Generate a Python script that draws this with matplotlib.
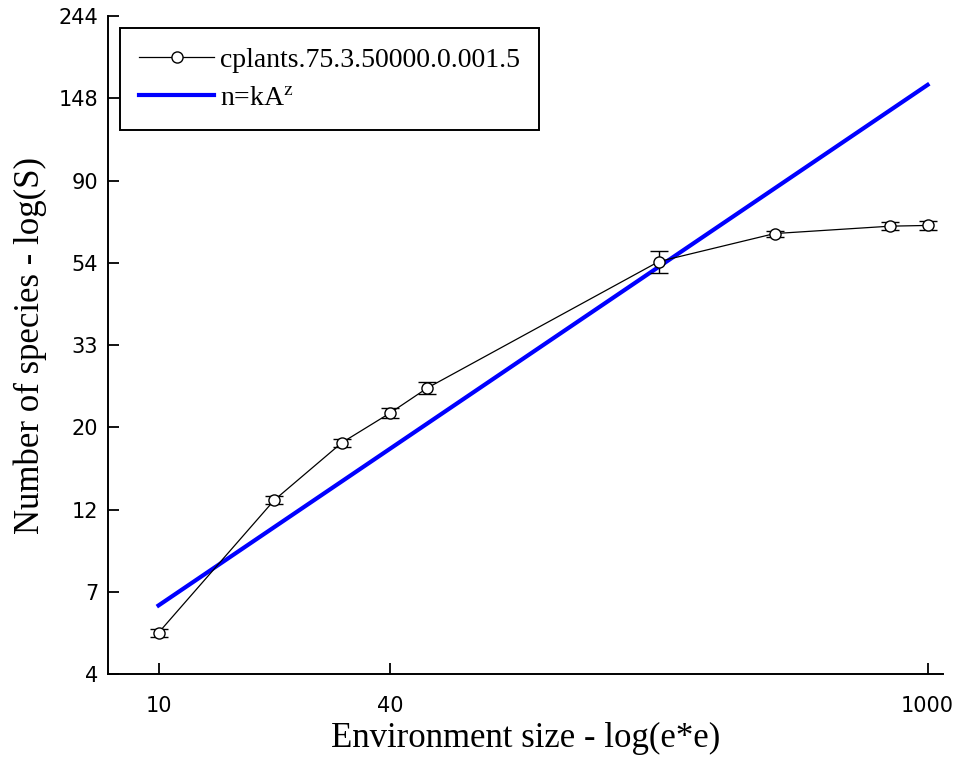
import matplotlib
matplotlib.use('Agg')
import matplotlib.pyplot as plt
import numpy as np

# species-area data
env_size = [10, 20, 30, 40, 50, 200, 400, 800, 1000]
species = [5.76, 12.9, 18.3, 21.9, 25.5, 55.0, 65.2, 68.2, 68.5]
species_err = [0.15, 0.3, 0.45, 0.65, 0.9, 3.7, 1.2, 1.7, 1.7]

# power law fit n = kA^z, end points
fit_x = [10, 1000]
fit_y = [6.8, 161]

x_ticks = [10, 40, 1000]
x_tick_labels = ['10', '40', '1000']
# y ticks sit at e^1.5 .. e^5.5, labels truncated
y_ticks = list(np.exp(np.arange(1.5, 5.51, 0.5)))
y_tick_labels = ['4', '7', '12', '20', '33', '54', '90', '148', '244']

series_label = 'cplants.75.3.50000.0.001.5'
fit_label = r'n=kA$^\mathrm{z}$'

plt.rcParams['mathtext.fontset'] = 'stix'

fig = plt.figure(figsize=(9.6, 7.69), dpi=100)
ax = fig.add_axes([0.1125, 0.1235, 0.8698, 0.8557])

ax.errorbar(env_size, species, yerr=species_err, fmt='none', ecolor='black',
            elinewidth=1.0, capsize=6.5, capthick=1.0, zorder=3)
ax.plot(env_size, species, color='black', lw=0.9, marker='o', ms=8,
        mfc='white', mec='black', mew=1.0, label=series_label, zorder=4)
ax.plot(fit_x, fit_y, color='#0000ff', lw=3, label=fit_label, zorder=2)

ax.set_xscale('log')
ax.set_yscale('log')
ax.set_xlim(np.exp(2), np.exp(7))
ax.set_ylim(np.exp(1.5), np.exp(5.5))
ax.minorticks_off()
ax.set_xticks(x_ticks)
ax.set_xticklabels(x_tick_labels)
ax.set_yticks(y_ticks)
ax.set_yticklabels(y_tick_labels)

for s in ['top', 'right']:
    ax.spines[s].set_visible(False)
for s in ['left', 'bottom']:
    ax.spines[s].set_linewidth(1.4)

ax.tick_params(axis='both', direction='in', length=8, width=1.3,
               labelsize=15)
ax.tick_params(axis='x', pad=16)
ax.tick_params(axis='y', pad=7)

ax.set_xlabel('Environment size - log(e*e)', family='Liberation Serif',
              fontsize=25, labelpad=4)
ax.set_ylabel('Number of species - log(S)', family='Liberation Serif',
              fontsize=25, labelpad=8)

leg = ax.legend(loc='upper left', bbox_to_anchor=(0.014, 0.982),
                prop={'family': 'Liberation Serif', 'size': 20},
                fancybox=False, framealpha=1, edgecolor='black',
                handlelength=2.7, handletextpad=0.2, labelspacing=0.45,
                borderpad=0.7, borderaxespad=0)
leg.get_frame().set_linewidth(1.4)

fig.savefig('out.png', dpi=100)
